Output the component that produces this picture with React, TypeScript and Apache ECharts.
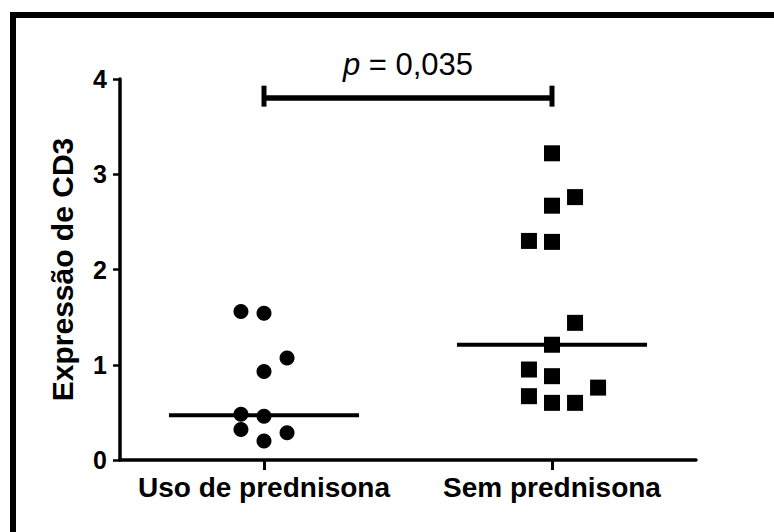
import React, { useEffect, useRef } from "react";
import * as echarts from "echarts";

const categories = ["Uso de prednisona", "Sem prednisona"];
const yTicks = [0, 1, 2, 3, 4];

// Group 1 (circles): x offset from category centre (category units), value
const usoOffsets = [-0.08, 0, 0.08, 0, -0.08, 0, -0.08, 0.08, 0];
const usoValues = [1.56, 1.54, 1.07, 0.93, 0.48, 0.46, 0.32, 0.285, 0.2];

// Group 2 (squares)
const semOffsets = [0, 0.08, 0, -0.08, 0, 0.08, 0, -0.08, 0, 0.16, -0.08, 0, 0.08];
const semValues = [3.22, 2.76, 2.67, 2.3, 2.29, 1.44, 1.21, 0.95, 0.88, 0.76, 0.67, 0.6, 0.6];

const medians = [0.47, 1.21];
const medianHalfWidth = 0.33;

const bracketY = 3.8;
const bracketCapLow = 3.71;
const bracketCapHigh = 3.93;
const pLabelY = 4.15;
const pText = "0,035";

const FONT = "'Liberation Sans', Arial, Helvetica, sans-serif";

export default function App() {
  const ref = useRef<HTMLDivElement>(null);

  useEffect(() => {
    document.body.style.margin = "0";
    if (!ref.current) return;
    const chart = echarts.init(ref.current, null, { renderer: "svg" });

    const usoData = usoValues.map((v, i) => [0 + usoOffsets[i], v]);
    const semData = semValues.map((v, i) => [1 + semOffsets[i], v]);

    const medianSeries = medians.map((m, i) => ({
      type: "line",
      xAxisIndex: 1,
      yAxisIndex: 0,
      data: [
        [i - medianHalfWidth, m],
        [i + medianHalfWidth, m],
      ],
      symbol: "none",
      lineStyle: { color: "#000", width: 4, opacity: 1 },
      z: 3,
      silent: true,
    }));

    const bracketLine = (data: number[][], width: number) => ({
      type: "line",
      xAxisIndex: 1,
      yAxisIndex: 0,
      data,
      symbol: "none",
      clip: false,
      lineStyle: { color: "#000", width, opacity: 1 },
      silent: true,
    });

    chart.setOption({
      animation: false,
      backgroundColor: "#fff",
      textStyle: { fontFamily: FONT },
      grid: { left: 120, right: 78, top: 79, bottom: 72, containLabel: false },
      xAxis: [
        {
          type: "category",
          data: categories,
          boundaryGap: true,
          axisLine: { show: true, onZero: false, lineStyle: { color: "#000", width: 3.5 } },
          axisTick: { show: true, alignWithLabel: true, length: 10, lineStyle: { color: "#000", width: 3 } },
          axisLabel: {
            color: "#000",
            fontSize: 28,
            fontWeight: "bold",
            fontFamily: FONT,
            margin: 13,
            interval: 0,
          },
          splitLine: { show: false },
        },
        {
          type: "value",
          min: -0.5,
          max: 1.5,
          show: false,
        },
      ],
      yAxis: {
        type: "value",
        min: 0,
        max: 4,
        interval: 1,
        name: "Expressão de CD3",
        nameLocation: "middle",
        nameGap: 43,
        nameTextStyle: { color: "#000", fontSize: 30, fontWeight: "bold", fontFamily: FONT },
        axisLine: { show: true, onZero: false, lineStyle: { color: "#000", width: 3.5 } },
        axisTick: { show: true, length: 7, lineStyle: { color: "#000", width: 2.5 } },
        axisLabel: {
          color: "#000",
          fontSize: 25,
          fontWeight: "bold",
          fontFamily: FONT,
          margin: 13,
          formatter: (v: number) => (yTicks.includes(v) ? String(v) : ""),
        },
        splitLine: { show: false },
      },
      series: [
        {
          type: "scatter",
          xAxisIndex: 1,
          data: usoData,
          symbol: "circle",
          symbolSize: 15,
          itemStyle: { color: "#000", opacity: 1 },
          z: 4,
        },
        {
          type: "scatter",
          xAxisIndex: 1,
          data: semData,
          symbol: "rect",
          symbolSize: 16,
          itemStyle: { color: "#000", opacity: 1 },
          z: 4,
        },
        ...medianSeries,
        bracketLine([[0, bracketY], [1, bracketY]], 5.5),
        bracketLine([[0, bracketCapLow], [0, bracketCapHigh]], 5),
        bracketLine([[1, bracketCapLow], [1, bracketCapHigh]], 5),
        {
          type: "scatter",
          xAxisIndex: 1,
          data: [[0.5, pLabelY]],
          symbolSize: 0,
          clip: false,
          silent: true,
          itemStyle: { opacity: 1 },
          label: {
            show: true,
            position: "inside",
            formatter: "{i|p} = " + pText,
            color: "#000",
            fontSize: 31,
            fontFamily: FONT,
            rich: {
              i: { fontStyle: "italic", fontSize: 31, fontFamily: FONT, color: "#000" },
            },
          },
        },
      ],
      graphic: [
        { type: "rect", shape: { x: 10, y: 12, width: 764, height: 6 }, style: { fill: "#000" }, silent: true },
        { type: "rect", shape: { x: 10, y: 12, width: 6, height: 520 }, style: { fill: "#000" }, silent: true },
      ],
    });

    return () => chart.dispose();
  }, []);

  return (
    <div
      ref={ref}
      style={{ position: "absolute", left: 0, top: 0, width: 774, height: 532 }}
    />
  );
}
